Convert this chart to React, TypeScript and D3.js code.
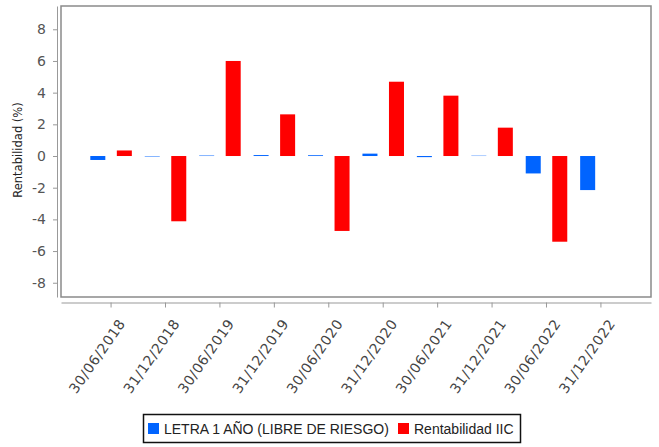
import React, { useEffect, useRef } from 'react'
import * as d3 from 'd3'

// fechas de cierre
const dates = [
  '30/06/2018',
  '31/12/2018',
  '30/06/2019',
  '31/12/2019',
  '30/06/2020',
  '31/12/2020',
  '30/06/2021',
  '31/12/2021',
  '30/06/2022',
  '31/12/2022',
]
const letraValues: (number | null)[] = [-0.25, -0.03, 0.03, 0.06, 0.05, 0.15, -0.07, 0.02, -1.1, -2.15]
const iicValues: (number | null)[] = [0.35, -4.12, 6.0, 2.63, -4.73, 4.69, 3.81, 1.79, -5.41, null]
const seriesKeys = ['letra', 'iic']
const seriesNames = ['LETRA 1 AÑO (LIBRE DE RIESGO)', 'Rentabilidad IIC']
const seriesColors = ['#0064ff', '#ff0000']
const yTicks = [-8, -6, -4, -2, 0, 2, 4, 6, 8]
const yMin = -8.9
const yMax = 9.47

const W = 659
const H = 447
const plot = { left: 61, right: 651, top: 6, bottom: 297 }

const App = () => {
  const ref = useRef<SVGSVGElement>(null)

  useEffect(() => {
    const svg = d3.select(ref.current)
    svg.selectAll('*').remove()

    const x = d3.scaleBand().domain(dates).range([plot.left, plot.right]).paddingInner(0).paddingOuter(0.42)
    const sub = d3.scaleBand().domain(seriesKeys).range([0, x.step()]).paddingInner(0.434).paddingOuter(0.243)
    const y = d3.scaleLinear().domain([yMin, yMax]).range([plot.bottom, plot.top])

    // marco del area de trazado
    svg
      .append('rect')
      .attr('x', plot.left)
      .attr('y', plot.top)
      .attr('width', plot.right - plot.left)
      .attr('height', plot.bottom - plot.top)
      .attr('fill', '#fff')
      .attr('stroke', '#8a8a8a')
      .attr('stroke-width', 1.5)

    const series = [letraValues, iicValues]
    series.forEach((vals, si) => {
      const rows = dates.map((d, i) => ({ date: d, value: vals[i] })).filter((r) => r.value !== null)
      svg
        .append('g')
        .selectAll('rect')
        .data(rows)
        .enter()
        .append('rect')
        .attr('x', (d) => (x(d.date) as number) + (sub(seriesKeys[si]) as number))
        .attr('width', sub.bandwidth())
        .attr('y', (d) => y(Math.max(0, d.value as number)))
        .attr('height', (d) => Math.abs(y(d.value as number) - y(0)))
        .attr('fill', seriesColors[si])
    })

    // eje Y
    const gy = svg
      .append('g')
      .attr('transform', 'translate(57,0)')
      .call(
        d3
          .axisLeft(y)
          .tickValues(yTicks)
          .tickFormat((d) => String(d))
          .tickSize(4)
          .tickSizeOuter(0)
          .tickPadding(7)
      )
    gy.select('.domain').attr('stroke', '#999')
    gy.selectAll('.tick line').attr('stroke', '#999')
    gy.selectAll('.tick text')
      .attr('fill', '#555')
      .style('font-family', '"DejaVu Sans", sans-serif')
      .style('font-size', '14px')

    svg
      .append('text')
      .attr('transform', 'translate(22,150) rotate(-90)')
      .attr('text-anchor', 'middle')
      .attr('fill', '#222')
      .style('font-family', '"DejaVu Sans", sans-serif')
      .style('font-size', '11.5px')
      .text('Rentabilidad (%)')

    // eje X
    const gx = svg
      .append('g')
      .attr('transform', 'translate(0,302.5)')
      .call(d3.axisBottom(x).tickSize(5).tickSizeOuter(0))
    gx.select('.domain').attr('stroke', '#999')
    gx.selectAll('.tick line').attr('stroke', '#999')
    gx.selectAll('.tick text')
      .attr('x', 0)
      .attr('y', 0)
      .attr('dy', 0)
      .attr('text-anchor', 'end')
      .attr('transform', 'translate(15,21) rotate(-55)')
      .attr('fill', '#444')
      .style('font-family', '"DejaVu Sans", sans-serif')
      .style('font-size', '14px')
      .style('letter-spacing', '0.6px')

    // leyenda
    const legend = svg.append('g')
    legend
      .append('rect')
      .attr('x', 143.5)
      .attr('y', 414.5)
      .attr('width', 377)
      .attr('height', 28)
      .attr('fill', '#fff')
      .attr('stroke', '#111')
      .attr('stroke-width', 1.5)
    const itemX = [148, 398]
    seriesNames.forEach((name, i) => {
      legend
        .append('rect')
        .attr('x', itemX[i])
        .attr('y', 423)
        .attr('width', 11)
        .attr('height', 11)
        .attr('fill', seriesColors[i])
      legend
        .append('text')
        .attr('x', itemX[i] + 16)
        .attr('y', 434)
        .attr('fill', '#222')
        .style('font-family', '"Liberation Sans", Arial, sans-serif')
        .style('font-size', '14px')
        .text(name)
    })
  })

  return (
    <svg
      ref={ref}
      width={W}
      height={H}
      style={{ position: 'absolute', left: 0, top: 0, background: '#fff' }}
    />
  )
}

export default App
